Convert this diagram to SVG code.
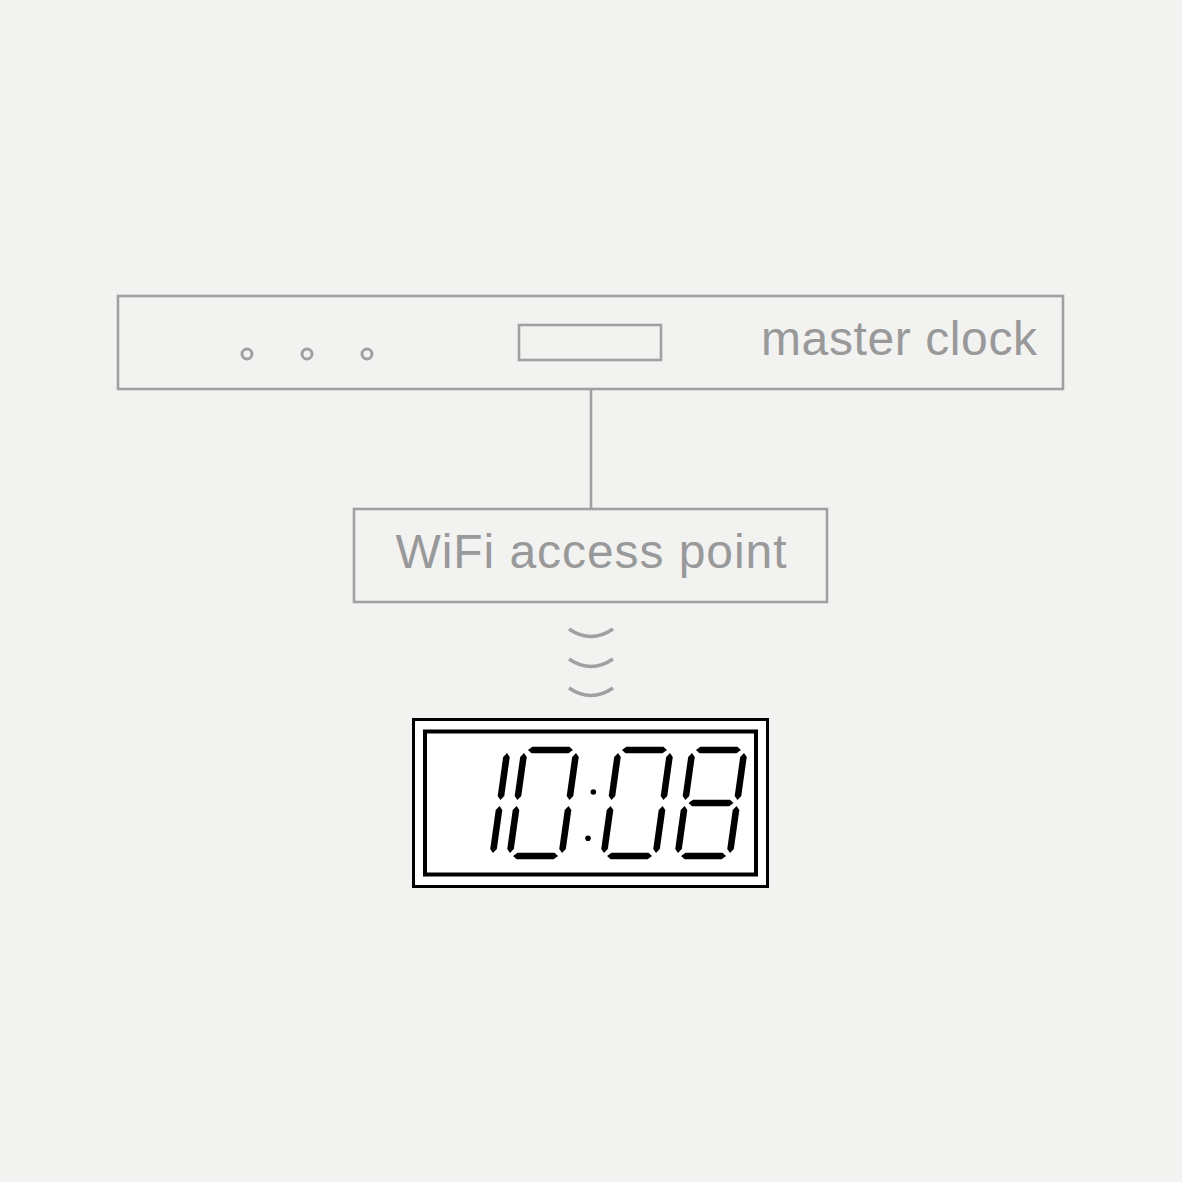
<svg xmlns="http://www.w3.org/2000/svg" width="1182" height="1182" viewBox="0 0 1182 1182">
<style>
.box{fill:none;stroke:#a0a0a0;stroke-width:2.6}
.dot{fill:none;stroke:#a0a0a0;stroke-width:3}
.wave{fill:none;stroke:#a0a0a0;stroke-width:3.4}
.lbl{font-family:"Liberation Sans",Arial,sans-serif;font-size:48px;fill:#999999}
.seg{fill:#000}
.frame{fill:#fff;stroke:#000}
</style>
<defs>
<polygon id="h" points="3.5,0 7.5,-3.3 44.5,-3.3 48.5,0 44.5,3.3 7.5,3.3"/>
<polygon id="v" points="0,3 3.3,7 3.3,46 0,50 -3.3,46 -3.3,7"/>
</defs>
<rect width="1182" height="1182" fill="#f2f2f1"/>
<g id="connectors">
<line x1="591" y1="390" x2="591" y2="509" class="box"/>
<path d="M569,629 Q591,644 613,629 M569,659 Q591,674 613,659 M569,688 Q591,703 613,688" class="wave"/>
</g>
<g id="master-clock">
<rect x="118" y="296" width="945" height="93" class="box"/>
<circle cx="247" cy="354" r="5" class="dot"/>
<circle cx="307" cy="354" r="5" class="dot"/>
<circle cx="367" cy="354" r="5" class="dot"/>
<rect x="519" y="325" width="142" height="35" class="box"/>
<text x="1037" y="355" text-anchor="end" class="lbl" textLength="276" lengthAdjust="spacing">master clock</text>
</g>
<g id="wifi-access-point">
<rect x="354" y="509" width="473" height="93" class="box"/>
<text x="591" y="568" text-anchor="middle" class="lbl" textLength="391" lengthAdjust="spacing">WiFi access point</text>
</g>
<g id="wall-clock">
<rect x="413.5" y="719.5" width="354" height="167" class="frame" stroke-width="3"/>
<rect x="425" y="731.5" width="331" height="143" class="frame" stroke-width="4"/>
<g class="seg" transform="translate(448,803) skewX(-8)">
<use href="#v" x="52" y="-53"/><use href="#v" x="52" y="0"/>
</g>
<g class="seg" transform="translate(517,803) skewX(-8)">
<use href="#h" y="-53"/><use href="#h" y="53"/>
<use href="#v" y="-53"/><use href="#v" y="0"/>
<use href="#v" x="52" y="-53"/><use href="#v" x="52" y="0"/>
</g>
<circle cx="593.3" cy="792" r="2.8"/>
<circle cx="588" cy="838.3" r="2.8"/>
<g class="seg" transform="translate(611,803) skewX(-8)">
<use href="#h" y="-53"/><use href="#h" y="53"/>
<use href="#v" y="-53"/><use href="#v" y="0"/>
<use href="#v" x="52" y="-53"/><use href="#v" x="52" y="0"/>
</g>
<g class="seg" transform="translate(685,803) skewX(-8)">
<use href="#h" y="-53"/><use href="#h" y="0"/><use href="#h" y="53"/>
<use href="#v" y="-53"/><use href="#v" y="0"/>
<use href="#v" x="52" y="-53"/><use href="#v" x="52" y="0"/>
</g>
</g>
</svg>
